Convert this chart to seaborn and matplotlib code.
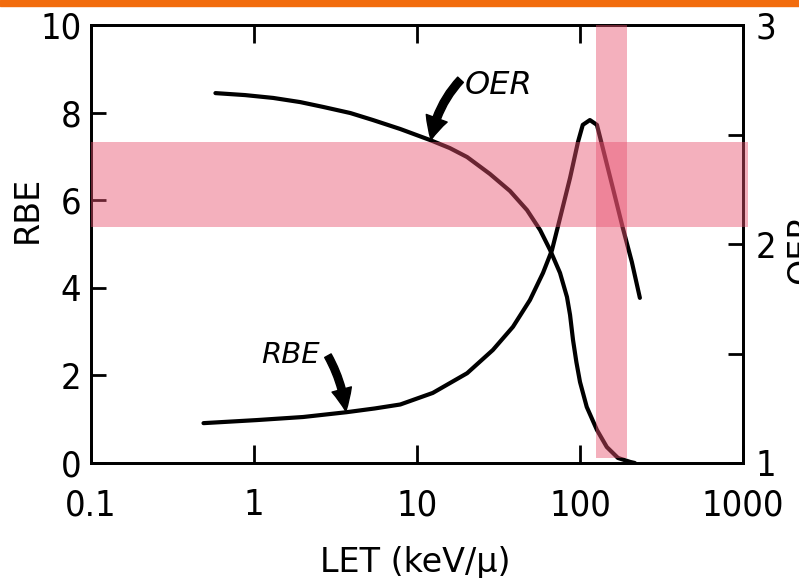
import matplotlib
matplotlib.use('Agg')
import matplotlib.pyplot as plt
import seaborn as sns
from matplotlib.patches import Rectangle
from matplotlib.ticker import NullLocator, FixedLocator

# values
let_rbe = [0.49, 1.04, 2.0, 3.7, 5.5, 7.9, 12.5, 20.3, 29.2, 38.8, 49.3, 59.3, 67.3, 75.4, 86.9,
           97.2, 104, 115, 127, 138, 159, 183, 208, 233]
rbe = [0.91, 0.98, 1.05, 1.16, 1.245, 1.336, 1.60, 2.05, 2.58, 3.11, 3.72, 4.34, 4.86, 5.59, 6.51,
       7.33, 7.72, 7.83, 7.72, 7.19, 6.28, 5.37, 4.59, 3.77]
let_oer = [0.58, 0.88, 1.31, 1.92, 2.65, 3.9, 5.37, 7.9, 12.0, 15.9, 20.3, 28.0, 37.2, 47.3,
           56.9, 65.5, 75.4, 83.2, 86.9, 90.6, 95.0, 100, 110, 127, 146, 171, 203, 217]
oer = [2.689, 2.680, 2.667, 2.648, 2.626, 2.598, 2.566, 2.525, 2.475, 2.438, 2.397, 2.32, 2.242, 2.155,
       2.064, 1.973, 1.868, 1.758, 1.676, 1.562, 1.461, 1.37, 1.256, 1.151, 1.073, 1.023, 1.005, 1.0]

x_ticks = [0.1, 1, 10, 100, 1000]
x_labels = ['0.1', '1', '10', '100', '1000']
rbe_ticks = [0, 2, 4, 6, 8, 10]
oer_ticks = [1, 1.5, 2, 2.5, 3]
oer_labels = ['1', '', '2', '', '3']

hband = (5.39, 7.33)      # RBE range of horizontal highlight
vband = (125, 194)        # LET range of vertical highlight

sns.set_style('white')
plt.rcParams['font.family'] = ['DejaVu Sans']
plt.rcParams['text.color'] = 'black'
tickfont = dict(fontsize=26, family=['Liberation Sans Narrow', 'DejaVu Sans'],
                stretch='condensed', color='black')

fig = plt.figure(figsize=(7.99, 5.78), dpi=100)
fig.patches.append(Rectangle((0, 1 - 6 / 578), 1, 6 / 578, transform=fig.transFigure,
                             color='#f26c0d', zorder=10))
ax = fig.add_axes([91 / 799, 115 / 578, 652 / 799, 438 / 578])
ax2 = ax.twinx()
ax.set_zorder(ax2.get_zorder() + 1)
ax.patch.set_visible(False)

sns.lineplot(x=let_rbe, y=rbe, ax=ax, color='black', lw=3, solid_capstyle='round')
sns.lineplot(x=let_oer, y=oer, ax=ax2, color='black', lw=3, solid_capstyle='round')

ax.set_xscale('log')
ax.set_xlim(0.1, 1000)
ax.set_ylim(0, 10)
ax2.set_ylim(1, 3)

ax.xaxis.set_major_locator(FixedLocator(x_ticks))
ax.xaxis.set_minor_locator(NullLocator())
ax.set_xticklabels(x_labels, **tickfont)
ax.set_yticks(rbe_ticks)
ax.set_yticklabels([str(t) for t in rbe_ticks], **tickfont)
ax2.set_yticks(oer_ticks)
ax2.set_yticklabels(oer_labels, **tickfont)

ax.tick_params(axis='x', which='major', direction='in', length=13, width=2, pad=18,
               top=True, bottom=True, color='black')
ax.tick_params(axis='y', direction='in', length=11, width=2, pad=7, left=True, color='black')
ax2.tick_params(axis='y', direction='in', length=11, width=2, pad=9, right=True, color='black')
for a in (ax, ax2):
    for s in a.spines.values():
        s.set_linewidth(2)
        s.set_color('black')

ax.set_xlabel('LET (keV/\u03bc)', fontsize=24, color='black')
ax.xaxis.set_label_coords(0.497, -0.19)
ax.set_ylabel('RBE', fontsize=24, color='black')
ax.yaxis.set_label_coords(-0.072, 0.58)
ax2.set_ylabel('OER', fontsize=24, color='black')
ax2.yaxis.set_label_coords(1.064, 0.49)

# curve labels with arrows
ax.annotate('', xy=(12.2, 7.38), xytext=(18.5, 8.75),
            arrowprops=dict(arrowstyle='simple,head_length=1.0,head_width=1.0,tail_width=0.35',
                            mutation_scale=16, color='black',
                            connectionstyle='arc3,rad=0.15', shrinkA=0, shrinkB=0))
ax.text(19.7, 8.63, 'OER', fontsize=23, style='italic', ha='left', va='center', color='black')
ax.annotate('', xy=(3.66, 1.18), xytext=(2.84, 2.45),
            arrowprops=dict(arrowstyle='simple,head_length=1.0,head_width=0.9,tail_width=0.33',
                            mutation_scale=16, color='black',
                            connectionstyle='arc3,rad=-0.1', shrinkA=0, shrinkB=0))
ax.text(2.54, 2.47, 'RBE', fontsize=21, style='italic', ha='right', va='center', color='black')

# translucent highlight bands
ax.axhspan(hband[0], hband[1], xmin=0, xmax=1.008, color='#e8506e', alpha=0.45, lw=0,
           zorder=5, clip_on=False)
ax.axvspan(vband[0], vband[1], ymin=0.011, ymax=1.0, color='#e8506e', alpha=0.45, lw=0, zorder=5)

fig.savefig('out.png', dpi=100, facecolor='white')
